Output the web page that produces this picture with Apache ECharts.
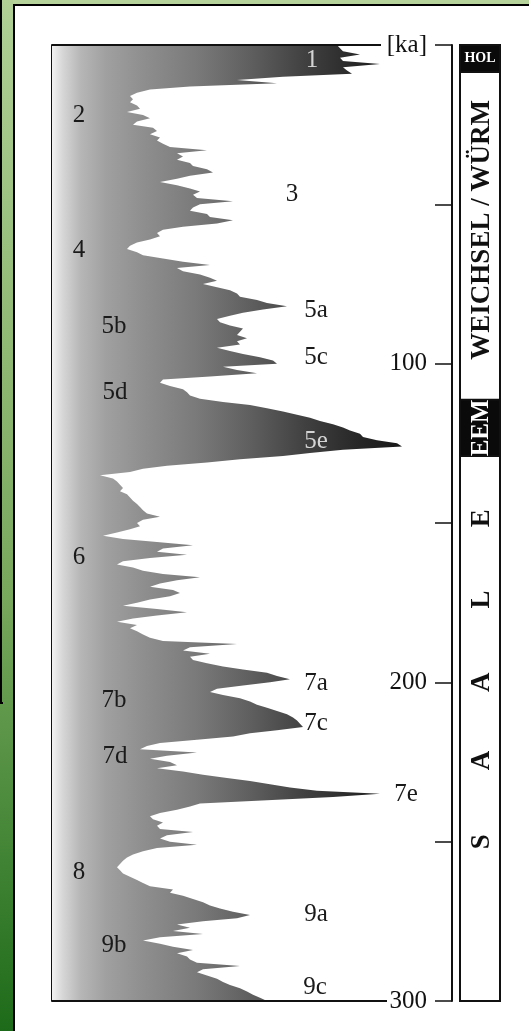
<!DOCTYPE html>
<html><head><meta charset="utf-8">
<script src="https://cdn.jsdelivr.net/npm/echarts@6/dist/echarts.min.js"></script>
<style>
html,body{margin:0;padding:0;width:529px;height:1031px;overflow:hidden;background:#fff;}
.d{position:absolute;}
#bgTop{left:0;top:0;width:529px;height:4px;background:#b5d39a;}
#bgLeft{left:0;top:0;width:13px;height:1031px;background:linear-gradient(#b0d095,#78a85c 58%,#1d6b1a);}
#lineV{left:13px;top:4px;width:2px;height:1027px;background:#000;}
#lineH{left:13px;top:4px;width:516px;height:2px;background:#000;}
#boxV{left:0;top:0;width:2px;height:704px;background:#000;}
#boxH{left:0;top:702px;width:3px;height:2px;background:#000;}
#chart{position:absolute;left:0;top:0;width:529px;height:1031px;}
</style></head>
<body>
<div class="d" id="bgTop"></div><div class="d" id="bgLeft"></div>
<div class="d" id="lineV"></div><div class="d" id="lineH"></div>
<div class="d" id="boxV"></div><div class="d" id="boxH"></div>
<div id="chart"></div>
<script>
// ---- data (age in ka, 1 ka steps, 0..300) ----
const ageStart = 0, ageEnd = 300;
const ages = [];
for (let a = ageStart; a <= ageEnd; a++) ages.push(String(a));

// climate curve (warmth index), one value per ka
const warmth = [
285,288,291,308,288,291,328,291,295,300,
231,185,225,138,98,85,78,81,78,85,
88,75,91,98,85,81,101,105,98,108,
105,111,118,155,125,131,125,138,141,155,
161,138,125,108,125,138,148,141,145,181,
148,141,138,155,158,181,165,131,111,105,
108,98,85,78,75,85,91,111,131,158,
125,131,148,158,165,151,165,178,185,188,
205,215,235,211,191,178,165,168,178,191,
188,185,195,185,188,165,178,191,208,221,
225,171,185,205,158,111,108,118,131,135,
138,148,171,198,215,231,245,258,268,281,
291,298,308,311,325,345,350,291,258,231,
188,155,115,91,78,48,61,65,68,71,
68,75,78,81,85,88,91,95,108,91,
85,88,78,65,51,71,105,141,111,105,
135,98,71,65,81,91,111,148,125,108,
98,121,128,118,98,85,71,105,135,105,
81,65,85,78,85,91,98,111,185,138,
131,158,138,141,155,171,191,215,225,238,
218,191,165,158,171,188,198,205,215,225,
235,241,245,248,251,225,198,181,145,108,
95,88,145,115,98,118,125,105,131,151,
175,198,218,238,265,328,281,215,148,138,
125,108,98,101,111,105,108,141,115,108,
118,145,105,91,81,75,71,68,65,68,
71,78,85,91,98,121,118,131,141,151,
158,168,181,198,185,151,125,138,121,151,
108,91,108,121,141,125,135,138,145,188,
151,145,155,165,171,178,188,195,201,208,
215
];

// right axis tick labels
const tickValues = [0, 100, 200, 300];
const tickLabels = ['[ka]', '100', '200', '300'];

// isotope stage labels
const stageNames = ['1','2','3','4','5a','5b','5c','5d','5e','6','7a','7b','7c','7d','7e','8','9a','9b','9c'];
const stageAges  = [4.7,22,47,64.6,83.2,88.2,97.9,108.9,124.3,160.7,200.5,205.8,213,223.4,235.3,259.8,272.7,282.7,295.9];
const stageX     = [260,27,240,27,264,62,264,63,264,27,264,62,264,63,354,27,264,62,263];

// stratigraphic units (age boundaries in ka)
const unitNames = ['HOL', 'WEICHSEL / WÜRM', 'EEM', 'SAALE'];
const unitFrom  = [0, 8.5, 111.3, 129];
const unitTo    = [8.5, 111.3, 129, 300];
const saaleLetterAges = [250, 224.5, 200, 174, 148.5]; // S A A L E (bottom to top)

const SERIF = '"Liberation Serif", "DejaVu Serif", serif';
const chart = echarts.init(document.getElementById('chart'), null, {renderer: 'canvas'});

chart.setOption({
  animation: false,
  backgroundColor: 'transparent',
  grid: {left: 52, right: 77, top: 45, bottom: 30, containLabel: false},
  xAxis: {type: 'value', min: 0, max: 400, show: false},
  yAxis: [
    {type: 'category', data: ages, inverse: true, boundaryGap: false, position: 'left',
     axisLine: {show: true, lineStyle: {color: '#111', width: 2}},
     axisTick: {show: false}, axisLabel: {show: false}, splitLine: {show: false}},
    {type: 'value', min: 0, max: 300, interval: 50, inverse: true, position: 'right',
     axisLine: {show: true, onZero: false, lineStyle: {color: '#111', width: 2}},
     axisTick: {show: true, inside: true, length: 17, lineStyle: {color: '#111', width: 1.5}},
     axisLabel: {show: true, inside: true, margin: 25, color: '#111', fontFamily: SERIF, fontSize: 25,
       formatter: v => { const i = tickValues.indexOf(v); return i >= 0 ? tickLabels[i] : ''; }},
     splitLine: {show: false}}
  ],
  series: [{
    type: 'line', data: warmth, xAxisIndex: 0, yAxisIndex: 0,
    symbol: 'none', silent: true,
    lineStyle: {width: 0, opacity: 0},
    areaStyle: {opacity: 1, color: {type: 'linear', x: 52, y: 0, x2: 412, y2: 0, global: true,
      colorStops: [
        {offset: 0, color: '#f2f2f2'},
        {offset: 0.03, color: '#d6d6d6'},
        {offset: 0.08, color: '#b6b6b6'},
        {offset: 0.15, color: '#a0a0a0'},
        {offset: 0.25, color: '#8f8f8f'},
        {offset: 0.4, color: '#7a7a7a'},
        {offset: 0.55, color: '#5f5f5f'},
        {offset: 0.7, color: '#414141'},
        {offset: 0.85, color: '#272727'},
        {offset: 1, color: '#151515'}
      ]}}
  }]
});

function py(ka) { return chart.convertToPixel({yAxisIndex: 1}, ka); }
function px(v) { return chart.convertToPixel({xAxisIndex: 0}, v); }

const els = [];
// frame top & bottom lines (stop before the [ka] and 300 labels)
els.push({type: 'line', shape: {x1: px(0), y1: py(0), x2: 381, y2: py(0)}, style: {stroke: '#111', lineWidth: 2}, z: 10});
els.push({type: 'line', shape: {x1: px(0), y1: py(300), x2: 387, y2: py(300)}, style: {stroke: '#111', lineWidth: 2}, z: 10});

// stage labels
stageNames.forEach((n, i) => {
  const light = (n === '1' || n === '5e');
  els.push({type: 'text', x: px(stageX[i]), y: py(stageAges[i]), z: 20,
    style: {text: n, font: '25px ' + SERIF, fill: light ? '#d4d4d4' : '#1a1a1a',
      textAlign: 'center', textVerticalAlign: 'middle'}});
});

// stratigraphic column
const colL = 460, colW = 40, colC = colL + colW / 2;
els.push({type: 'rect', shape: {x: colL, y: py(0), width: colW, height: py(300) - py(0)},
  style: {fill: '#fff', stroke: '#111', lineWidth: 2}, z: 10});
[0, 2].forEach(i => {
  els.push({type: 'rect', shape: {x: colL, y: py(unitFrom[i]), width: colW, height: py(unitTo[i]) - py(unitFrom[i])},
    style: {fill: '#0a0a0a', stroke: '#111', lineWidth: 2}, z: 11});
});
els.push({type: 'text', x: colC, y: (py(unitFrom[0]) + py(unitTo[0])) / 2, z: 12,
  style: {text: unitNames[0], font: 'bold 14px ' + SERIF, fill: '#fff', textAlign: 'center', textVerticalAlign: 'middle'}});
els.push({type: 'text', x: colC + 2, y: (py(unitFrom[1]) + py(unitTo[1])) / 2 - 6, rotation: Math.PI / 2, z: 12,
  style: {text: unitNames[1], font: 'bold 27px ' + SERIF, fill: '#111', textAlign: 'center', textVerticalAlign: 'middle'}});
els.push({type: 'text', x: colC + 2, y: (py(unitFrom[2]) + py(unitTo[2])) / 2, rotation: Math.PI / 2, z: 12,
  style: {text: unitNames[2], font: 'bold 25px ' + SERIF, fill: '#fff', textAlign: 'center', textVerticalAlign: 'middle'}});
const saale = ['S', 'A', 'A', 'L', 'E'];
saale.forEach((ch, i) => {
  els.push({type: 'text', x: colC + 2, y: py(saaleLetterAges[i]), rotation: Math.PI / 2, z: 12,
    style: {text: ch, font: 'bold 27px ' + SERIF, fill: '#111', textAlign: 'center', textVerticalAlign: 'middle'}});
});

chart.setOption({graphic: {elements: els}});
</script>
</body></html>
